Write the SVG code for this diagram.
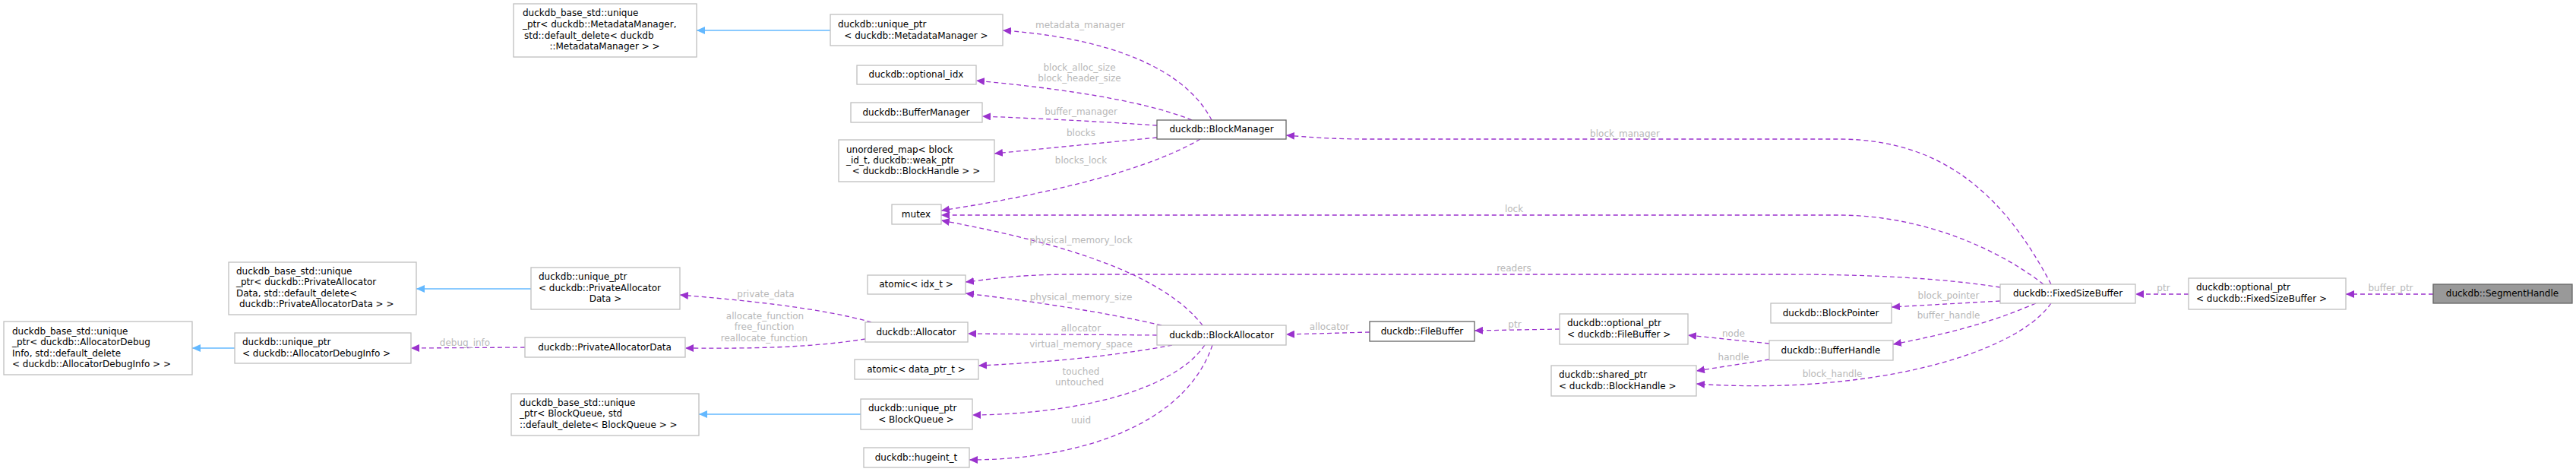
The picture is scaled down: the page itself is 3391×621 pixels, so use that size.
<svg xmlns="http://www.w3.org/2000/svg" width="3391" height="621" viewBox="0 0 3391 621">
<style>
text{font-family:"DejaVu Sans",sans-serif;font-size:12px;fill:#000}
.c{text-anchor:middle}
.n rect{fill:#fff;stroke:#bfbfbf;stroke-width:1.3}
.n.d rect{stroke:#666}
.n.h rect{fill:#999;stroke:#666}
.e path{fill:none;stroke:#9a32cd;stroke-width:1.3;stroke-dasharray:6,4}
.e path.b{stroke:#63b8ff;stroke-dasharray:none;stroke-width:1.5}
.l text{fill:#b8b8b8;text-anchor:middle}
</style>
<defs>
<marker id="p" markerWidth="12" markerHeight="10" refX="11" refY="5" orient="auto" markerUnits="userSpaceOnUse"><path d="M0,0 L11,5 L0,10 z" fill="#9a32cd"/></marker>
<marker id="bl" markerWidth="12" markerHeight="10" refX="11" refY="5" orient="auto" markerUnits="userSpaceOnUse"><path d="M0,0 L11,5 L0,10 z" fill="#63b8ff"/></marker>
</defs>
<g class="e" id="edges">
<path class="b" marker-end="url(#bl)" d="M1093,40 L917,40"/>
<path class="b" marker-end="url(#bl)" d="M699,380 L548,380"/>
<path class="b" marker-end="url(#bl)" d="M309,458 L253,458"/>
<path class="b" marker-end="url(#bl)" d="M1133,545 L920,545"/>
<path marker-end="url(#p)" d="M1595,158 C1560,90 1460,50 1320,40"/>
<path marker-end="url(#p)" d="M1569,158 C1500,130 1380,115 1285,106"/>
<path marker-end="url(#p)" d="M1523,165 C1450,160 1370,156 1293,153"/>
<path marker-end="url(#p)" d="M1523,181 C1450,188 1370,196 1309,202"/>
<path marker-end="url(#p)" d="M1580,183 C1500,230 1350,260 1239,277"/>
<path marker-end="url(#p)" d="M2700,374 C2640,260 2560,183 2420,183 L1800,183 C1750,183 1720,180 1693,178"/>
<path marker-end="url(#p)" d="M2690,374 C2620,320 2520,283 2420,283 L1239,283"/>
<path marker-end="url(#p)" d="M2633,378 C2550,365 2450,361 2350,361 L1400,361 C1330,362 1300,368 1271,371"/>
<path marker-end="url(#p)" d="M1583,428 C1530,360 1400,320 1239,290"/>
<path marker-end="url(#p)" d="M1529,428 C1450,410 1350,395 1271,386"/>
<path marker-end="url(#p)" d="M1523,441 L1274,439"/>
<path marker-end="url(#p)" d="M1543,454 C1460,470 1360,478 1288,481"/>
<path marker-end="url(#p)" d="M1586,454 C1540,520 1400,545 1280,546"/>
<path marker-end="url(#p)" d="M1596,454 C1560,560 1420,605 1276,605"/>
<path marker-end="url(#p)" d="M1803,437 L1693,440"/>
<path marker-end="url(#p)" d="M2053,433 L1941,435"/>
<path marker-end="url(#p)" d="M2329,452 L2222,441"/>
<path marker-end="url(#p)" d="M2329,473 L2233,488"/>
<path marker-end="url(#p)" d="M2633,396 L2490,404"/>
<path marker-end="url(#p)" d="M2680,399 C2620,425 2560,440 2492,453"/>
<path marker-end="url(#p)" d="M2700,399 C2650,470 2450,520 2233,505"/>
<path marker-end="url(#p)" d="M2881,387 L2811,387"/>
<path marker-end="url(#p)" d="M3203,387 L3088,387"/>
<path marker-end="url(#p)" d="M1147,424 C1080,405 980,395 895,388"/>
<path marker-end="url(#p)" d="M1139,446 C1050,460 960,458 902,458"/>
<path marker-end="url(#p)" d="M691,457 L541,458"/>
</g>
<g class="l" id="labels">
<text x="1422" y="37">metadata_manager</text>
<text x="1421" y="93">block_alloc_size</text>
<text x="1421" y="107">block_header_size</text>
<text x="1423" y="151">buffer_manager</text>
<text x="1423" y="179">blocks</text>
<text x="1423" y="215">blocks_lock</text>
<text x="1423" y="320">physical_memory_lock</text>
<text x="1008" y="391">private_data</text>
<text x="1007" y="420">allocate_function</text>
<text x="1006" y="434">free_function</text>
<text x="1006" y="449">reallocate_function</text>
<text x="1423" y="395">physical_memory_size</text>
<text x="1423" y="436">allocator</text>
<text x="1423" y="457">virtual_memory_space</text>
<text x="1423" y="493">touched</text>
<text x="1421" y="507">untouched</text>
<text x="1423" y="557">uuid</text>
<text x="1750" y="434">allocator</text>
<text x="612" y="455">debug_info</text>
<text x="2139" y="180">block_manager</text>
<text x="1993" y="279">lock</text>
<text x="1993" y="357">readers</text>
<text x="1994" y="431">ptr</text>
<text x="2282" y="443">node</text>
<text x="2282" y="474">handle</text>
<text x="2412" y="496">block_handle</text>
<text x="2565" y="393">block_pointer</text>
<text x="2565" y="419">buffer_handle</text>
<text x="2848" y="383">ptr</text>
<text x="3147" y="383">buffer_ptr</text>
</g>
<g class="n" id="n_mm_base"><rect x="676" y="5" width="241" height="70"/><text x="688" y="21">duckdb_base_std::unique</text><text x="688" y="36">_ptr&lt; duckdb::MetadataManager,</text><text x="690" y="51"> std::default_delete&lt; duckdb</text><text class="c" x="796" y="65">::MetadataManager &gt; &gt;</text></g>
<g class="n" id="n_mm_uptr"><rect x="1093" y="19" width="227" height="41"/><text x="1103" y="36">duckdb::unique_ptr</text><text class="c" x="1206" y="51">&lt; duckdb::MetadataManager &gt;</text></g>
<g class="n" id="n_optidx"><rect x="1128" y="86" width="157" height="25"/><text class="c" x="1206" y="102">duckdb::optional_idx</text></g>
<g class="n" id="n_bufmgr"><rect x="1120" y="135" width="173" height="26"/><text class="c" x="1206" y="152">duckdb::BufferManager</text></g>
<g class="n" id="n_umap"><rect x="1104" y="184" width="205" height="55"/><text x="1114" y="201">unordered_map&lt; block</text><text x="1114" y="215">_id_t, duckdb::weak_ptr</text><text class="c" x="1206" y="229">&lt; duckdb::BlockHandle &gt; &gt;</text></g>
<g class="n d" id="n_blockmgr"><rect x="1523" y="158" width="170" height="25"/><text class="c" x="1608" y="174">duckdb::BlockManager</text></g>
<g class="n" id="n_mutex"><rect x="1174" y="269" width="65" height="26"/><text class="c" x="1206" y="286">mutex</text></g>
<g class="n" id="n_atomic_idx"><rect x="1142" y="362" width="129" height="25"/><text class="c" x="1206" y="378">atomic&lt; idx_t &gt;</text></g>
<g class="n" id="n_allocator"><rect x="1139" y="424" width="135" height="26"/><text class="c" x="1206" y="441">duckdb::Allocator</text></g>
<g class="n" id="n_atomic_dp"><rect x="1125" y="473" width="163" height="26"/><text class="c" x="1206" y="490">atomic&lt; data_ptr_t &gt;</text></g>
<g class="n" id="n_bq_uptr"><rect x="1133" y="525" width="147" height="40"/><text x="1143" y="541">duckdb::unique_ptr</text><text class="c" x="1206" y="556">&lt; BlockQueue &gt;</text></g>
<g class="n" id="n_hugeint"><rect x="1137" y="589" width="139" height="26"/><text class="c" x="1206" y="606">duckdb::hugeint_t</text></g>
<g class="n" id="n_blockalloc"><rect x="1523" y="428" width="170" height="26"/><text class="c" x="1608" y="445">duckdb::BlockAllocator</text></g>
<g class="n" id="n_pad_base"><rect x="301" y="345" width="247" height="69"/><text x="311" y="361">duckdb_base_std::unique</text><text x="311" y="375">_ptr&lt; duckdb::PrivateAllocator</text><text x="311" y="390">Data, std::default_delete&lt;</text><text x="315" y="404"> duckdb::PrivateAllocatorData &gt; &gt;</text></g>
<g class="n" id="n_pad_uptr"><rect x="699" y="352" width="196" height="55"/><text x="709" y="368">duckdb::unique_ptr</text><text x="709" y="383">&lt; duckdb::PrivateAllocator</text><text class="c" x="797" y="397">Data &gt;</text></g>
<g class="n" id="n_adi_base"><rect x="5" y="423" width="248" height="70"/><text x="16" y="440">duckdb_base_std::unique</text><text x="16" y="454">_ptr&lt; duckdb::AllocatorDebug</text><text x="16" y="469">Info, std::default_delete</text><text x="16" y="483">&lt; duckdb::AllocatorDebugInfo &gt; &gt;</text></g>
<g class="n" id="n_adi_uptr"><rect x="309" y="438" width="232" height="40"/><text x="319" y="454">duckdb::unique_ptr</text><text x="319" y="469">&lt; duckdb::AllocatorDebugInfo &gt;</text></g>
<g class="n" id="n_pad"><rect x="691" y="444" width="211" height="26"/><text class="c" x="796" y="461">duckdb::PrivateAllocatorData</text></g>
<g class="n" id="n_bq_base"><rect x="673" y="518" width="247" height="55"/><text x="684" y="534">duckdb_base_std::unique</text><text x="684" y="548">_ptr&lt; BlockQueue, std</text><text x="684" y="563">::default_delete&lt; BlockQueue &gt; &gt;</text></g>
<g class="n d" id="n_filebuf"><rect x="1803" y="423" width="138" height="26"/><text class="c" x="1872" y="440">duckdb::FileBuffer</text></g>
<g class="n" id="n_optfb"><rect x="2053" y="413" width="169" height="40"/><text x="2063" y="429">duckdb::optional_ptr</text><text x="2063" y="444">&lt; duckdb::FileBuffer &gt;</text></g>
<g class="n" id="n_blockptr"><rect x="2331" y="399" width="159" height="26"/><text class="c" x="2410" y="416">duckdb::BlockPointer</text></g>
<g class="n" id="n_bufhandle"><rect x="2329" y="448" width="163" height="26"/><text class="c" x="2410" y="465">duckdb::BufferHandle</text></g>
<g class="n" id="n_sharedbh"><rect x="2042" y="481" width="191" height="40"/><text x="2052" y="497">duckdb::shared_ptr</text><text x="2052" y="512">&lt; duckdb::BlockHandle &gt;</text></g>
<g class="n" id="n_fsb"><rect x="2633" y="374" width="178" height="25"/><text class="c" x="2722" y="390">duckdb::FixedSizeBuffer</text></g>
<g class="n" id="n_optfsb"><rect x="2881" y="366" width="207" height="41"/><text x="2891" y="382">duckdb::optional_ptr</text><text x="2891" y="397">&lt; duckdb::FixedSizeBuffer &gt;</text></g>
<g class="n h" id="n_segment"><rect x="3203" y="374" width="183" height="25"/><text class="c" x="3294" y="390">duckdb::SegmentHandle</text></g>
</svg>
